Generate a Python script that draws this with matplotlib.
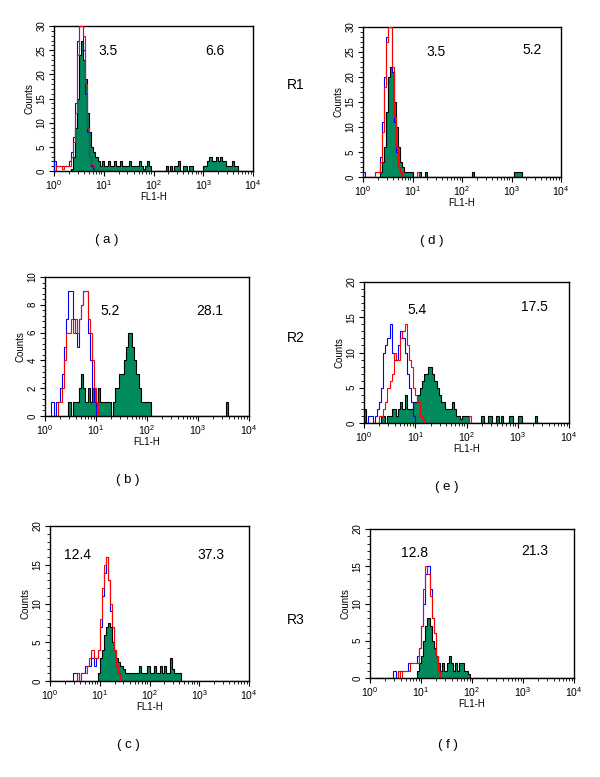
import numpy as np
import matplotlib
matplotlib.use("Agg")
import matplotlib.pyplot as plt
from matplotlib.ticker import LogLocator, MultipleLocator, AutoMinorLocator, NullFormatter

plt.rcParams['font.family'] = ['Liberation Sans', 'DejaVu Sans']
plt.rcParams['mathtext.default'] = 'regular'

# ---------------- data (counts per log bin, 24 bins per decade, 10^0 .. 10^4) ----------------
BINS_PER_DECADE = 24
N_DECADES = 4

# panel (a)
a_green_start = 8
a_green = [0.5, 3, 9, 15, 24, 27, 23, 19, 12, 8, 5, 4, 3, 2,
           1, 2, 1, 1, 2, 1, 1, 2, 1, 1, 2, 1, 1, 1, 2, 1, 1, 1, 1, 2, 1, 0.5, 1, 2, 1,
           0, 0, 0, 0, 0, 0, 0,
           1, 0, 1, 0, 1, 1, 2, 0, 1, 1, 0, 1, 1,
           0, 0, 0, 0, 0,
           1, 1, 2, 3, 2, 2, 3, 2, 3, 2, 2, 1, 1, 1, 2, 1, 1]
a_red_start = 0
a_red = [0, 1, 1, 1, 0.5, 1, 1, 1, 3, 6, 12, 24, 30, 30, 28, 18, 9, 3, 1.5, 1]
a_blue_start = 0
a_blue = [2, 1, 1, 1, 1, 1, 1, 2, 4, 7, 14, 27, 30, 30, 25, 16, 8, 3, 1, 0.5]

# panel (d)
d_green_start = 8
d_green = [1, 3, 6, 13, 20, 22, 21, 15, 10, 6, 3, 2, 1, 1, 1, 1, 0, 0, 0, 1, 0, 0, 1,
           0, 0, 0, 0, 0, 0, 0, 0, 0, 0, 0, 0, 0, 0, 0, 0, 0, 0, 0, 0, 0, 0,
           1,
           0, 0, 0, 0, 0, 0, 0, 0, 0, 0, 0, 0, 0, 0, 0, 0, 0, 0, 0,
           1, 1, 1, 1]
d_red_start = 6
d_red = [1, 1, 3, 9, 18, 27, 30, 30, 22, 12, 6, 2, 1, 0, 0, 0, 0, 0, 0, 0, 1]
d_blue_start = 0
d_blue = [1, 0, 0, 0, 0, 0, 1, 1, 4, 11, 20, 28, 30, 30, 21, 11, 5, 2, 1]

# panel (b)
b_green_start = 11
b_green = [1, 0, 1, 1, 1, 2, 3, 2, 1, 2, 1, 2, 2, 1, 2, 1, 1, 1, 1, 1,
           0,
           1, 2, 2, 3, 3, 4, 5, 6, 6, 5, 4, 3, 2, 1, 1, 1, 1, 1,
           0, 0, 0, 0, 0, 0, 0, 0, 0, 0, 0, 0, 0, 0, 0, 0, 0, 0, 0, 0, 0, 0, 0, 0, 0, 0, 0, 0, 0, 0, 0, 0, 0, 0, 0,
           1]
b_red_start = 6
b_red = [1, 1, 2, 4, 6, 6, 7, 6, 7, 6, 7, 8, 9, 9, 7, 6, 4, 2, 1]
b_blue_start = 3
b_blue = [1, 0, 1, 1, 2, 3, 5, 7, 9, 9, 7, 6, 5, 7, 8, 9, 9, 6, 4, 2, 1]

# panel (e)
e_green_start = 0
e_green = [2, 0, 0, 0, 0, 0, 0, 0, 1, 1, 0, 1, 1, 2, 2, 1, 2, 3, 2, 4, 2, 2, 2, 3, 3,
           4, 5, 6, 7, 7, 8, 8, 7, 6, 5, 4, 3, 3, 2, 2, 2, 3, 2, 1, 1, 0.5, 1, 1, 1,
           0, 0, 0, 0, 0, 0,
           1, 0, 0, 1, 1, 0, 0, 1, 0, 1, 0, 0, 0, 1, 1, 0, 0, 1, 1, 0, 0, 0, 0, 0, 0, 1]
e_red_start = 7
e_red = [1, 1, 2, 3, 5, 6, 7, 10, 9, 9, 12, 13, 14, 11, 9, 8, 5, 4, 3, 1, 0.5,
         0, 0, 0, 0, 0, 0, 0, 0, 0, 0, 0, 0, 0, 0, 0, 0, 0, 0, 0, 0, 0, 1]
e_blue_start = 2
e_blue = [1, 1, 0, 1, 2, 3, 5, 10, 11, 12, 14, 10, 9, 9, 11, 13, 12, 10, 7, 5, 3, 1]

# panel (c)
c_green_start = 23
c_green = [1, 3, 4, 6, 7, 7.5, 7, 5, 4, 3, 2.5, 2, 1.5, 1, 1, 1, 1, 1, 1, 1,
           2, 1, 1, 1, 2, 1, 1, 2, 1, 1, 2, 1, 2, 1, 1, 3, 1.5, 1, 1, 1]
c_red_start = 13
c_red = [1, 0, 1, 1, 1, 2, 3, 4, 3, 3, 4, 8, 12, 15, 16, 13, 10, 7, 4, 2, 1]
c_blue_start = 11
c_blue = [1, 1, 1, 0, 1, 1, 2, 2, 2, 3, 2, 3, 4, 7, 11, 14, 16, 13, 9, 7, 4, 2, 1]

# panel (f)
f_green_start = 22
f_green = [1, 2, 3, 5, 7, 8, 7, 5, 4, 3, 2, 1, 2, 1, 2, 3, 2, 1, 2, 1, 2, 2, 1, 1, 0.5]
f_red_start = 13
f_red = [1, 0, 1, 1, 1, 1, 2, 2, 2, 2, 4, 7, 12, 15, 14, 11, 8, 6, 3, 1]
f_blue_start = 11
f_blue = [1, 0, 1, 1, 1, 1, 1, 2, 2, 2, 2, 3, 4, 7, 10, 14, 15, 12, 8, 6, 3, 1]

panel_letters = ['a', 'd', 'b', 'e', 'c', 'f']
y_max = [30, 30, 10, 20, 20, 20]
y_major = [5, 5, 2, 5, 5, 5]
left_values = ['3.5', '3.5', '5.2', '5.4', '12.4', '12.8']
right_values = ['6.6', '5.2', '28.1', '17.5', '37.3', '21.3']
row_labels = ['R1', 'R2', 'R3']

series = {
    'a': ((a_green_start, a_green), (a_red_start, a_red), (a_blue_start, a_blue)),
    'd': ((d_green_start, d_green), (d_red_start, d_red), (d_blue_start, d_blue)),
    'b': ((b_green_start, b_green), (b_red_start, b_red), (b_blue_start, b_blue)),
    'e': ((e_green_start, e_green), (e_red_start, e_red), (e_blue_start, e_blue)),
    'c': ((c_green_start, c_green), (c_red_start, c_red), (c_blue_start, c_blue)),
    'f': ((f_green_start, f_green), (f_red_start, f_red), (f_blue_start, f_blue)),
}

# ---------------- layout ----------------
W, H = 600, 777
axes_px = {  # left, top, right, bottom in pixels
    'a': (54, 26, 253, 171),
    'd': (363, 27, 561, 177),
    'b': (45, 277, 249, 416),
    'e': (364, 282, 569, 423),
    'c': (50, 526, 249, 681),
    'f': (370, 529, 574, 678),
}
text_pos = {  # axes-fraction positions of the two value labels
    'a': ((0.27, 0.83), (0.81, 0.83)),
    'd': ((0.37, 0.83), (0.855, 0.85)),
    'b': ((0.32, 0.755), (0.81, 0.755)),
    'e': ((0.26, 0.80), (0.83, 0.82)),
    'c': ((0.14, 0.81), (0.81, 0.81)),
    'f': ((0.22, 0.84), (0.81, 0.85)),
}
letter_px = {'a': (107, 240), 'd': (432, 241), 'b': (128, 480),
             'e': (447, 487), 'c': (128, 745), 'f': (448, 745)}
row_px = [(296, 85), (296, 338), (296, 620)]

GREEN = '#008a5e'
edges = np.logspace(0, N_DECADES, N_DECADES * BINS_PER_DECADE + 1)
nb = len(edges) - 1


def to_full(start, counts):
    arr = np.zeros(nb)
    arr[start:start + len(counts)] = counts
    return arr


fig = plt.figure(figsize=(W / 100, H / 100), dpi=100)

for i, key in enumerate(panel_letters):
    l, t, r, b = axes_px[key]
    ax = fig.add_axes([l / W, 1 - b / H, (r - l) / W, (b - t) / H])
    (gs, gv), (rs, rv), (bs, bv) = series[key]
    g = to_full(gs, gv)
    red = to_full(rs, rv)
    blue = to_full(bs, bv)
    ax.stairs(g, edges, fill=True, color=GREEN, zorder=2, lw=0)
    ax.stairs(g, edges, color='black', lw=0.8, zorder=3, baseline=0)
    ax.stairs(blue, edges, color='blue', lw=0.8, zorder=4, baseline=0)
    ax.stairs(red, edges, color='red', lw=0.8, zorder=5, baseline=0)

    ax.set_xscale('log')
    ax.set_xlim(1, 1e4)
    ax.set_ylim(0, y_max[i])
    ax.xaxis.set_major_locator(LogLocator(base=10, numticks=10))
    ax.xaxis.set_minor_locator(LogLocator(base=10, subs=np.arange(2, 10), numticks=20))
    ax.xaxis.set_minor_formatter(NullFormatter())
    ax.yaxis.set_major_locator(MultipleLocator(y_major[i]))
    ax.yaxis.set_minor_locator(AutoMinorLocator(5))
    ax.tick_params(axis='both', which='major', direction='out', length=3.5, width=0.8,
                   labelsize=7.5, top=False, right=False, pad=2)
    ax.tick_params(axis='both', which='minor', direction='out', length=2, width=0.6,
                   top=False, right=False)
    ax.tick_params(axis='y', labelsize=7)
    for lab in ax.get_yticklabels():
        lab.set_rotation(90)
        lab.set_va('center')
    for s in ax.spines.values():
        s.set_linewidth(1.0)
    ax.set_ylabel('Counts', fontsize=7, labelpad=1)
    ax.set_xlabel('FL1-H', fontsize=7, labelpad=0)

    (x1, y1), (x2, y2) = text_pos[key]
    ax.text(x1, y1, left_values[i], transform=ax.transAxes, fontsize=10,
            ha='center', va='center')
    ax.text(x2, y2, right_values[i], transform=ax.transAxes, fontsize=10,
            ha='center', va='center')

    lx, ly = letter_px[key]
    fig.text(lx / W, 1 - ly / H, '( %s )' % key, fontsize=9.5, ha='center', va='center')

for lab, (x, y) in zip(row_labels, row_px):
    fig.text(x / W, 1 - y / H, lab, fontsize=10, ha='center', va='center')

fig.savefig('out.png', dpi=100)
